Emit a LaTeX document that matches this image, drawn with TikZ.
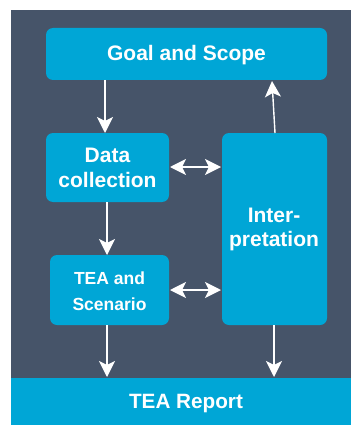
\documentclass[tikz,border=0pt]{standalone}
\usepackage{fontspec}
\setmainfont{Liberation Sans}
\usetikzlibrary{arrows.meta}
\definecolor{bgdark}{HTML}{465469}
\definecolor{boxblue}{HTML}{00A6D6}
\begin{document}
\begin{tikzpicture}[x=1pt,y=-1pt,
  box/.style={fill=boxblue,rounded corners=7pt,draw=none},
  lab/.style={text=white,font=\bfseries,align=center,inner sep=0pt},
  arr/.style={draw=white,line width=1.4pt,-{Stealth[length=16pt,width=16pt,inset=4pt]}},
  darr/.style={draw=white,line width=1.4pt,{Stealth[length=16pt,width=16pt,inset=4pt]}-{Stealth[length=16pt,width=16pt,inset=4pt]}}]
\useasboundingbox (0,0) rectangle (351,425);
\fill[white] (0,0) rectangle (351,425);
\fill[bgdark] (11,10) rectangle (351,378);
\fill[boxblue] (11,378) rectangle (351,425);
\node[lab,font=\bfseries\fontsize{20.7}{24}\selectfont] (rep) at (186,404) {TEA Report};
\coordinate (repL) at (107,377);
\coordinate (repR) at (274,377);
\fill[box] (46,28) rectangle (327,80);
\node[lab,font=\bfseries\fontsize{21}{24}\selectfont] (goal) at (186.5,55.5) {Goal and Scope};
\fill[box] (46,133) rectangle (169,202);
\node[lab,font=\bfseries\fontsize{21}{25}\selectfont] (data) at (107.5,167.5) {Data\\collection};
\fill[box] (50,255) rectangle (169,325);
\node[lab,font=\bfseries\fontsize{17.5}{26}\selectfont] (tea) at (109.5,291) {TEA and\\Scenario};
\fill[box] (222,133) rectangle (327,325);
\node[lab,font=\bfseries\fontsize{21}{24}\selectfont] (int) at (274,229) {Inter-\\pretation};
\coordinate (goalB) at (105,80);
\coordinate (dataT) at (105,133);
\coordinate (dataB) at (107,202);
\coordinate (teaT) at (107,255);
\coordinate (teaB) at (107,325);
\coordinate (intB) at (274,325);
\coordinate (intT) at (275,133);
\coordinate (goalBR) at (272,81);
\coordinate (dataR) at (170,167);
\coordinate (intL1) at (221,167);
\coordinate (teaR) at (170,290);
\coordinate (intL2) at (221,290);
\draw[arr] (goalB) -- (dataT);
\draw[arr] (dataB) -- (teaT);
\draw[arr] (teaB) -- (repL);
\draw[arr] (intB) -- (repR);
\draw[arr] (intT) -- (goalBR);
\draw[darr] (dataR) -- (intL1);
\draw[darr] (teaR) -- (intL2);
\end{tikzpicture}
\end{document}
